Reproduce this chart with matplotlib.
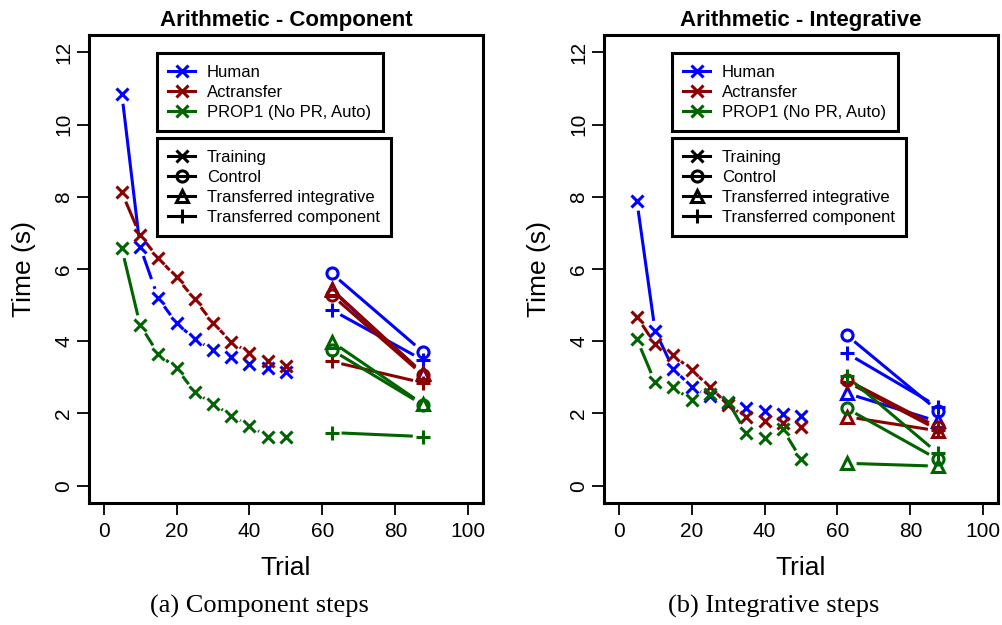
import matplotlib
matplotlib.use('Agg')
import matplotlib.pyplot as plt
from matplotlib.lines import Line2D
import numpy as np

plt.rcParams['font.family'] = ['Liberation Sans', 'DejaVu Sans']

# training trials and transfer test positions
trials = [5, 10, 15, 20, 25, 30, 35, 40, 45, 50]
transfer_x = [62.5, 87.5]

# (a) component steps, training times (s)
human_comp_train = [10.85, 6.62, 5.19, 4.50, 4.06, 3.76, 3.55, 3.37, 3.25, 3.16]
act_comp_train = [8.12, 6.94, 6.30, 5.77, 5.16, 4.50, 3.99, 3.67, 3.46, 3.32]
prop_comp_train = [6.57, 4.45, 3.65, 3.25, 2.59, 2.27, 1.94, 1.66, 1.36, 1.36]

# (a) transfer: [before, after] for control / transferred integrative / transferred component
human_comp_ctrl = [5.88, 3.71]
human_comp_tint = [5.42, 3.10]
human_comp_tcomp = [4.87, 3.48]
act_comp_ctrl = [5.28, 3.07]
act_comp_tint = [5.44, 3.12]
act_comp_tcomp = [3.44, 2.85]
prop_comp_ctrl = [3.76, 2.24]
prop_comp_tint = [3.99, 2.26]
prop_comp_tcomp = [1.47, 1.36]

# (b) integrative steps, training times (s)
human_int_train = [7.89, 4.29, 3.23, 2.74, 2.47, 2.30, 2.14, 2.07, 1.99, 1.94]
act_int_train = [4.68, 3.92, 3.62, 3.20, 2.74, 2.24, 1.89, 1.79, 1.73, 1.62]
prop_int_train = [4.06, 2.86, 2.72, 2.37, 2.53, 2.33, 1.45, 1.33, 1.56, 0.74]

human_int_ctrl = [4.17, 2.08]
human_int_tint = [2.56, 1.78]
human_int_tcomp = [3.67, 2.19]
act_int_ctrl = [2.93, 1.62]
act_int_tint = [1.91, 1.52]
act_int_tcomp = [2.88, 1.55]
prop_int_ctrl = [2.14, 0.73]
prop_int_tint = [0.62, 0.54]
prop_int_tcomp = [3.03, 0.90]

group_names = ['Human', 'Actransfer', 'PROP1 (No PR, Auto)']
group_colors = ['blue', '#8b0000', '#006400']
train_dash = [(0, (8, 2.5)), (0, (5, 2, 1, 2)), (0, (5, 2.5))]
cond_names = ['Training', 'Control', 'Transferred integrative', 'Transferred component']
cond_markers = ['x', 'o', '^', '+']
cond_ms = [8.5, 8, 9, 10.5]

panels = [
    ('Arithmetic - Component', '(a) Component steps', 0.0888, 259,
     [human_comp_train, act_comp_train, prop_comp_train],
     [[human_comp_ctrl, human_comp_tint, human_comp_tcomp],
      [act_comp_ctrl, act_comp_tint, act_comp_tcomp],
      [prop_comp_ctrl, prop_comp_tint, prop_comp_tcomp]]),
    ('Arithmetic - Integrative', '(b) Integrative steps', 0.6028, 774,
     [human_int_train, act_int_train, prop_int_train],
     [[human_int_ctrl, human_int_tint, human_int_tcomp],
      [act_int_ctrl, act_int_tint, act_int_tcomp],
      [prop_int_ctrl, prop_int_tint, prop_int_tcomp]]),
]

LW = 2.2
GAP = 10  # pixels left open around each point, like R type="b"


def gap_segments(ax, x, y, first_solid=False, gap=GAP, **kw):
    pts = ax.transData.transform(np.column_stack([x, y]))
    inv = ax.transData.inverted()
    for i in range(len(pts) - 1):
        d = pts[i + 1] - pts[i]
        L = np.hypot(d[0], d[1])
        if L <= 2 * gap:
            continue
        u = d / L
        a = inv.transform(pts[i] + u * gap)
        b = inv.transform(pts[i + 1] - u * gap)
        style = dict(kw)
        if first_solid and i == 0:
            style['linestyle'] = '-'
        ax.plot([a[0], b[0]], [a[1], b[1]], solid_capstyle='butt',
                dash_capstyle='butt', **style)


fig = plt.figure(figsize=(10.02, 6.25), dpi=100)

for title, caption, left, cap_x, train_sets, transfer_sets in panels:
    ax = fig.add_axes([left, 0.1952, 0.3932, 0.7488])
    ax.set_xlim(-4, 104)
    ax.set_ylim(-0.48, 12.48)
    ax.set_autoscale_on(False)

    for g in range(3):
        col = group_colors[g]
        ys = train_sets[g]
        gap_segments(ax, trials, ys, first_solid=True, color=col, lw=LW,
                     linestyle=train_dash[g])
        ax.plot(trials, ys, ls='none', marker='x', ms=cond_ms[0], mew=2.2, color=col)
        for c in range(3):
            ys = transfer_sets[g][c]
            gap_segments(ax, transfer_x, ys, color=col, lw=LW, linestyle='-')
            ax.plot(transfer_x, ys, ls='none', marker=cond_markers[c + 1],
                    ms=cond_ms[c + 1], mew=2.2, mfc='none', color=col)

    for s in ax.spines.values():
        s.set_linewidth(2.2)
    ax.set_xticks([0, 20, 40, 60, 80, 100])
    ax.set_yticks([0, 2, 4, 6, 8, 10, 12])
    ax.set_yticklabels(['0', '2', '4', '6', '8', '10', '12'], rotation=90, va='center')
    ax.tick_params(direction='out', length=8.5, width=1.3, labelsize=15)
    ax.tick_params(axis='y', pad=3)
    ax.tick_params(axis='x', pad=5)

    ax.set_xlabel('Trial', fontsize=19, va='center')
    ax.xaxis.set_label_coords(0.5, -0.139)
    ax.set_ylabel('Time (s)', fontsize=19, va='center')
    ax.yaxis.set_label_coords(-0.165, 0.5)
    ax.set_title(title, fontsize=16, fontweight='bold', y=1.03, va='center', pad=0)

    h1 = [Line2D([], [], color=group_colors[g], lw=LW, marker='x', ms=cond_ms[0], mew=2.2)
          for g in range(3)]
    h2 = [Line2D([], [], color='black', lw=LW, marker=cond_markers[c], ms=cond_ms[c],
                 mew=2.2, mfc='none') for c in range(4)]
    leg_kw = dict(loc='upper left', borderaxespad=0, fontsize=12, fancybox=False,
                  framealpha=1, edgecolor='black', borderpad=0.7, handlelength=1.6,
                  handletextpad=0.7, labelspacing=0.3)
    leg1 = ax.legend(h1, group_names, bbox_to_anchor=(0.172, 0.9615), **leg_kw)
    leg1.get_frame().set_linewidth(2.2)
    ax.add_artist(leg1)
    leg2 = ax.legend(h2, cond_names, bbox_to_anchor=(0.172, 0.78), **leg_kw)
    leg2.get_frame().set_linewidth(2.2)

    fig.text(cap_x / 1002, 1 - 606 / 625, caption, family='Liberation Serif',
             fontsize=19, ha='center', va='center')

fig.savefig('out.png', dpi=100)
